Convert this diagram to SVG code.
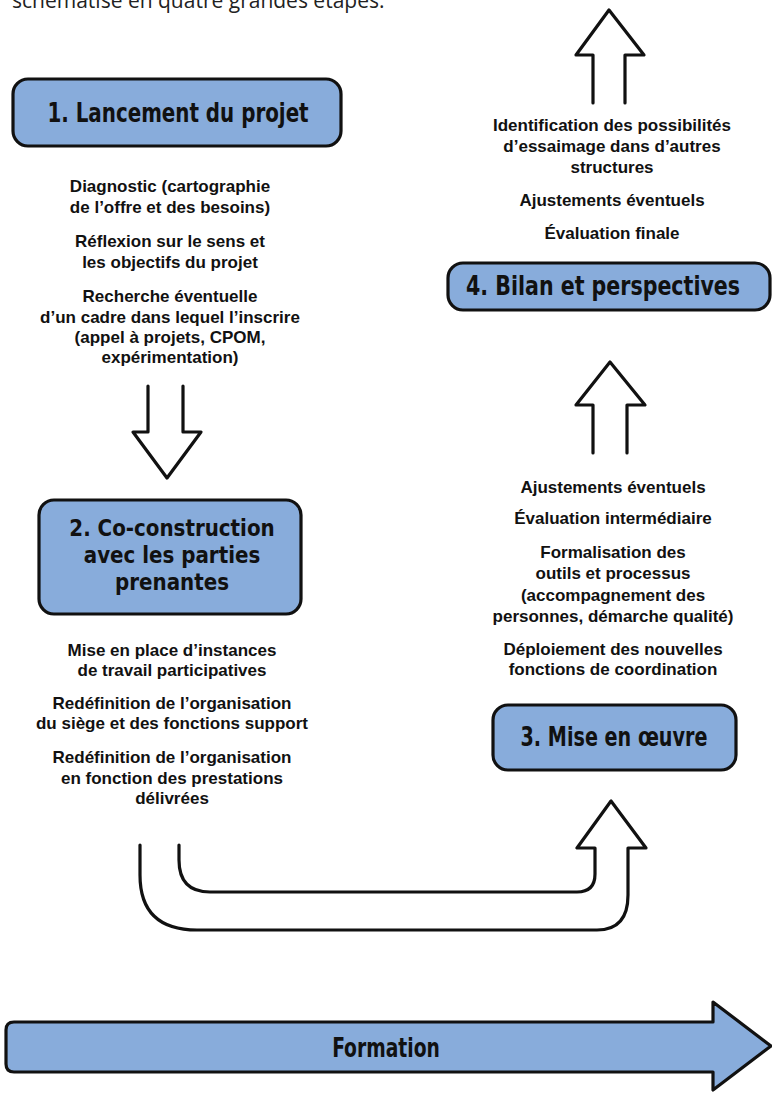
<svg xmlns="http://www.w3.org/2000/svg" width="772" height="1094" viewBox="0 0 772 1094">
<style>
.bg{fill:#ffffff}
.box{fill:#88acdb;stroke:#111;stroke-width:3.2;stroke-linejoin:round}
.hd{font-family:"DejaVu Sans Condensed","DejaVu Sans",sans-serif;font-weight:bold;font-size:26px;fill:#111;text-anchor:middle}
.hd2{font-family:"DejaVu Sans Condensed","DejaVu Sans",sans-serif;font-weight:bold;font-size:23px;fill:#111;text-anchor:middle}
.tx{font-family:"Liberation Sans",Arial,sans-serif;font-weight:bold;font-size:17px;fill:#111;text-anchor:middle}
.intro{font-family:"Open Sans","Noto Sans",sans-serif;font-size:21px;fill:#222}
.arw{fill:#ffffff;stroke:#111;stroke-width:3.2;stroke-linejoin:round;stroke-linecap:round}
.big{fill:#88acdb;stroke:#111;stroke-width:3.2;stroke-linejoin:round}
</style>
<rect class="bg" x="0" y="0" width="772" height="1094"/>
<text class="intro" x="12" y="8">schématisé en quatre grandes étapes.</text>

<g id="connectors">
  <path class="arw" d="M148,386 L148,432 L133,432 L167,478 L201,432 L183,432 L183,386"/>
  <path class="arw" d="M593,103 L593,55 L576,55 L609,10 L644,55 L625,55 L625,103"/>
  <path class="arw" d="M593,453 L593,405 L576,405 L610,362 L645,405 L627,405 L627,453"/>
  <path class="arw" d="M140,845 L140,875 Q140,930 197,930 L597,930 Q628,930 628,895 L628,848 L646,848 L611,801 L577,848 L595,848 L595,874 Q595,892 577,892 L210,892 Q179,892 179,860 L179,845"/>
</g>

<g id="node1">
  <rect class="box" x="13" y="79" width="328" height="67" rx="15"/>
  <text class="hd" transform="translate(178,122) scale(0.85,1)">1. Lancement du projet</text>
</g>
<g id="text1">
  <text class="tx" x="170" y="192">Diagnostic (cartographie</text>
  <text class="tx" x="170" y="213">de l’offre et des besoins)</text>
  <text class="tx" x="170" y="247">Réflexion sur le sens et</text>
  <text class="tx" x="170" y="268">les objectifs du projet</text>
  <text class="tx" x="170" y="302">Recherche éventuelle</text>
  <text class="tx" x="170" y="323">d’un cadre dans lequel l’inscrire</text>
  <text class="tx" x="170" y="343">(appel à projets, CPOM,</text>
  <text class="tx" x="170" y="363">expérimentation)</text>
</g>

<g id="node2">
  <rect class="box" x="39" y="500" width="262" height="114" rx="15"/>
  <text class="hd2" transform="translate(172,536) scale(0.96,1)"><tspan x="0" y="0">2. Co-construction</tspan><tspan x="0" y="27">avec les parties</tspan><tspan x="0" y="54">prenantes</tspan></text>
</g>
<g id="text2">
  <text class="tx" x="172" y="656">Mise en place d’instances</text>
  <text class="tx" x="172" y="676">de travail participatives</text>
  <text class="tx" x="172" y="709">Redéfinition de l’organisation</text>
  <text class="tx" x="172" y="729">du siège et des fonctions support</text>
  <text class="tx" x="172" y="763">Redéfinition de l’organisation</text>
  <text class="tx" x="172" y="784">en fonction des prestations</text>
  <text class="tx" x="172" y="804">délivrées</text>
</g>

<g id="node3">
  <rect class="box" x="493" y="705" width="243" height="65" rx="15"/>
  <text class="hd" transform="translate(614,746) scale(0.82,1)">3. Mise en œuvre</text>
</g>
<g id="text3">
  <text class="tx" x="613" y="493">Ajustements éventuels</text>
  <text class="tx" x="613" y="524">Évaluation intermédiaire</text>
  <text class="tx" x="613" y="558">Formalisation des</text>
  <text class="tx" x="613" y="579">outils et processus</text>
  <text class="tx" x="613" y="601">(accompagnement des</text>
  <text class="tx" x="613" y="622">personnes, démarche qualité)</text>
  <text class="tx" x="613" y="655">Déploiement des nouvelles</text>
  <text class="tx" x="613" y="675">fonctions de coordination</text>
</g>

<g id="node4">
  <rect class="box" x="448" y="263" width="322" height="47" rx="15"/>
  <text class="hd" transform="translate(603,295) scale(0.88,1)">4. Bilan et perspectives</text>
</g>
<g id="text4">
  <text class="tx" x="612" y="131">Identification des possibilités</text>
  <text class="tx" x="612" y="152">d’essaimage dans d’autres</text>
  <text class="tx" x="612" y="173">structures</text>
  <text class="tx" x="612" y="206">Ajustements éventuels</text>
  <text class="tx" x="612" y="239">Évaluation finale</text>
</g>

<g id="formation">
  <path class="big" d="M14,1022 L713,1022 L713,1002 L771,1046 L713,1090 L713,1072 L14,1072 Q6,1072 6,1064 L6,1030 Q6,1022 14,1022 Z"/>
  <text class="hd" transform="translate(386,1057) scale(0.8,1)">Formation</text>
</g>
</svg>
